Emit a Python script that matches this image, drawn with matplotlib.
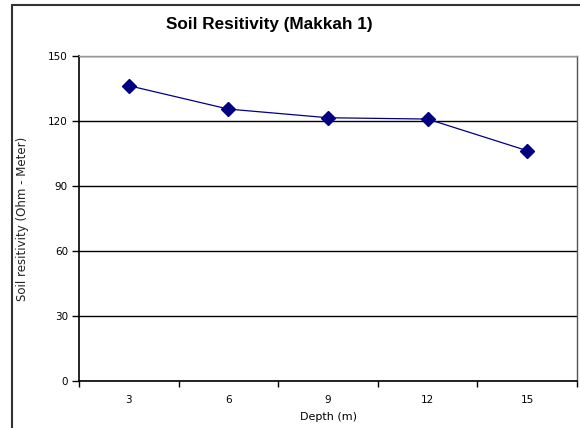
import matplotlib
matplotlib.use("Agg")
import matplotlib.pyplot as plt
from matplotlib.patches import Rectangle

depths = ["3", "6", "9", "12", "15"]
resistivity = [136.3, 125.5, 121.5, 120.9, 106.3]
yticks = [0, 30, 60, 90, 120, 150]

plt.rcParams['font.family'] = ['DejaVu Sans']

fig = plt.figure(figsize=(5.8, 4.28), dpi=100)
ax = fig.add_axes([79/580, 1-381/428, (577-79)/580, (381-56)/428])

x = list(range(len(depths)))
ax.plot(x, resistivity, color='#000080', lw=0.9, marker='D', ms=7.5,
        markerfacecolor='#000080', markeredgecolor='#000080')

ax.set_xlim(-0.5, len(depths)-0.5)
ax.set_ylim(0, 150)
ax.set_yticks(yticks)
ax.set_yticklabels([str(v) for v in yticks], fontsize=7.5)
ax.set_xticks(x)
ax.set_xticklabels(depths, fontsize=7.5)
ax.set_xticks([i-0.5 for i in range(len(depths)+1)], minor=True)
ax.tick_params(axis='x', which='major', length=0, pad=10)
ax.tick_params(axis='x', which='minor', length=4, width=1, direction='out')
ax.tick_params(axis='y', length=5, width=1, direction='out', pad=3)
ax.yaxis.grid(True, color='black', lw=1)
ax.set_axisbelow(True)
for s in ['left', 'bottom']:
    ax.spines[s].set_color('black')
    ax.spines[s].set_linewidth(1.2)
ax.spines['top'].set_color('#999999')
ax.spines['top'].set_linewidth(1)
ax.spines['right'].set_color('#555555')
ax.spines['right'].set_linewidth(1)

ax.set_xlabel("Depth (m)", fontsize=8, labelpad=5)
ax.set_ylabel("Soil resitivity (Ohm - Meter)", fontsize=8.5, labelpad=14,
              color='#222222')
fig.text(269/580, 1-25/428, "Soil Resitivity (Makkah 1)", ha='center', va='center',
         fontsize=12.3, fontweight='bold', family=['Liberation Sans', 'DejaVu Sans'])

fig.patches.append(Rectangle((11.5/580, -0.05), 1.0, 1-5.5/428+0.05,
                             transform=fig.transFigure, fill=False,
                             edgecolor='#333333', lw=1.5))

fig.savefig("out.png", dpi=100)
